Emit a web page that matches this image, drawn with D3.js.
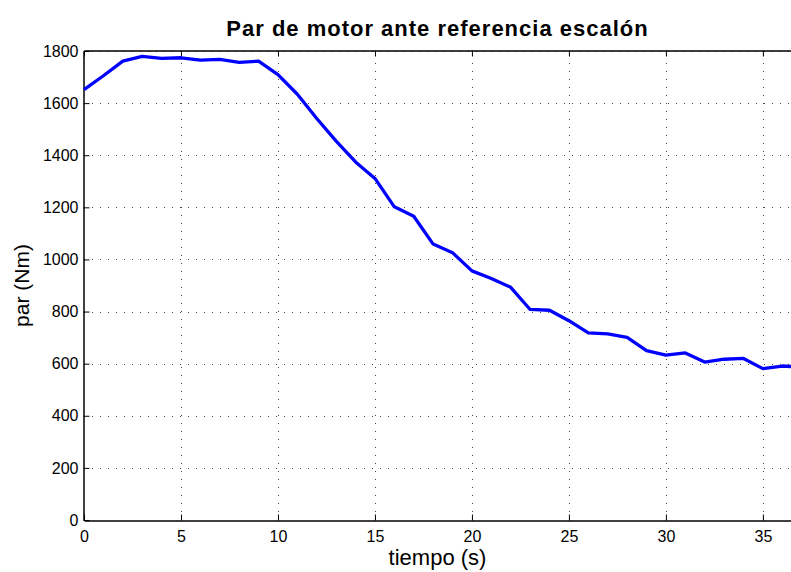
<!DOCTYPE html>
<html>
<head>
<meta charset="utf-8">
<script src="https://cdn.jsdelivr.net/npm/d3@7"></script>
<style>
  html, body { margin: 0; padding: 0; background: #fff; }
  svg { display: block; font-family: "Liberation Sans", Arial, Helvetica, sans-serif; }
</style>
</head>
<body>
<svg id="chart" width="791" height="572"></svg>
<script>
// Motor torque response to a step reference, sampled once per second
const tiempo = [0, 1, 2, 3, 4, 5, 6, 7, 8, 9, 10, 11, 12, 13, 14, 15, 16, 17, 18, 19,
                20, 21, 22, 23, 24, 25, 26, 27, 28, 29, 30, 31, 32, 33, 34, 35, 36, 36.5];
const par = [1652, 1705, 1761, 1779, 1772, 1774, 1765, 1768, 1756, 1761, 1709, 1634, 1541, 1454, 1374, 1311, 1202, 1166, 1059, 1026,
             956, 927, 893, 808, 805, 765, 718, 714, 701, 650, 633, 641, 606, 617, 620, 581, 591, 589];
const xTicks = [0, 5, 10, 15, 20, 25, 30, 35];
const yTicks = [0, 200, 400, 600, 800, 1000, 1200, 1400, 1600, 1800];
const titulo = "Par de motor ante referencia escalón";
const etiquetaX = "tiempo (s)";
const etiquetaY = "par (Nm)";

const FONT = '"Liberation Sans", Arial, Helvetica, sans-serif';
const svg = d3.select("#chart");
const margin = { left: 84, top: 51, right: 0, bottom: 52 };
const W = 791, H = 572;
const x0 = margin.left, x1 = W - margin.right;
const y0 = H - margin.bottom, y1 = margin.top;

const x = d3.scaleLinear().domain([0, 36.45]).range([x0, x1]);
const y = d3.scaleLinear().domain([0, 1800]).range([y0, y1]);

// dotted grid
const grid = svg.append("g").attr("stroke", "#444").attr("stroke-width", 1)
  .attr("stroke-dasharray", "1,7");
grid.selectAll("line.gx").data(xTicks.filter(d => d > 0)).join("line")
  .attr("x1", d => Math.round(x(d)) + 0.5).attr("x2", d => Math.round(x(d)) + 0.5)
  .attr("y1", y0).attr("y2", y1);
grid.selectAll("line.gy").data(yTicks.filter(d => d > 0)).join("line")
  .attr("y1", d => Math.round(y(d)) + 0.5).attr("y2", d => Math.round(y(d)) + 0.5)
  .attr("x1", x0).attr("x2", x1);

// axes: ticks point inward
const fmt = d3.format("d");
const xAxis = d3.axisBottom(x).tickValues(xTicks).tickFormat(fmt).tickSizeInner(-6).tickSizeOuter(0).tickPadding(10);
const yAxis = d3.axisLeft(y).tickValues(yTicks).tickFormat(fmt).tickSizeInner(-6).tickSizeOuter(0).tickPadding(5);
const xTop = d3.axisTop(x).tickValues(xTicks).tickSizeInner(-6).tickSizeOuter(0).tickFormat("");

const gx = svg.append("g").attr("transform", `translate(0,${y0 + 0.5})`).call(xAxis);
const gy = svg.append("g").attr("transform", `translate(${x0 - 0.5},0)`).call(yAxis);
const gt = svg.append("g").attr("transform", `translate(0,${y1 - 0.5})`).call(xTop);
[gx, gy, gt].forEach(g => {
  g.attr("font-family", FONT).attr("font-size", 16);
  g.selectAll(".domain").attr("stroke", "#000").attr("stroke-width", 1.5);
  g.selectAll(".tick line").attr("stroke", "#000");
  g.selectAll(".tick text").attr("fill", "#000");
});
gx.selectAll(".tick text").attr("dy", "0.71em");

// torque curve
const line = d3.line().x((d, i) => x(tiempo[i])).y(d => y(d));
svg.append("path").datum(par)
  .attr("d", line)
  .attr("fill", "none")
  .attr("stroke", "#0000ff")
  .attr("stroke-width", 3.3)
  .attr("stroke-linejoin", "round");

// labels
svg.append("text").attr("x", (x0 + x1) / 2).attr("y", 36)
  .attr("text-anchor", "middle").style("font-size", "22px").style("font-weight", "bold")
  .style("letter-spacing", "1px")
  .text(titulo);
svg.append("text").attr("x", (x0 + x1) / 2).attr("y", 565)
  .attr("text-anchor", "middle").style("font-size", "22px")
  .text(etiquetaX);
svg.append("text").attr("transform", `translate(29,${(y0 + y1) / 2}) rotate(-90)`)
  .attr("text-anchor", "middle").style("font-size", "21px")
  .text(etiquetaY);
</script>
</body>
</html>
